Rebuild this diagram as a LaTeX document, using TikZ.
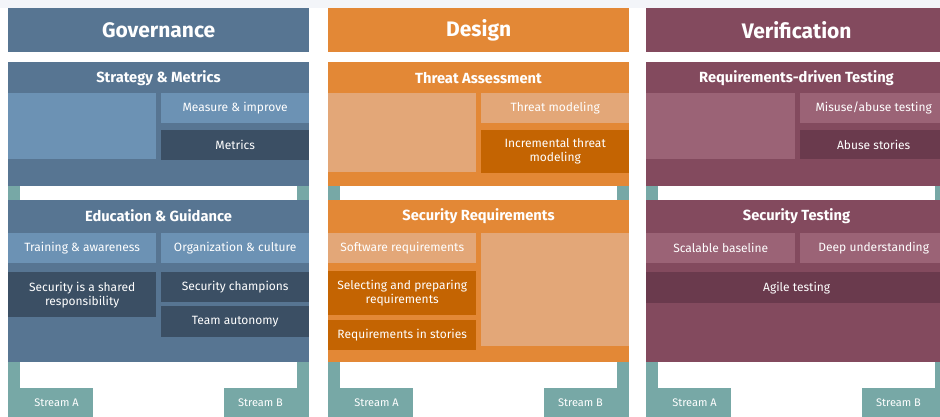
\documentclass[tikz,border=0pt]{standalone}
\usepackage{fontspec}
\setmainfont{Fira Sans}

\definecolor{govmid}{HTML}{577592}
\definecolor{govlight}{HTML}{6C92B4}
\definecolor{govdark}{HTML}{3B4F64}
\definecolor{desmid}{HTML}{E38836}
\definecolor{deslight}{HTML}{E3A778}
\definecolor{desdark}{HTML}{C46402}
\definecolor{vermid}{HTML}{834A5E}
\definecolor{verlight}{HTML}{9B6376}
\definecolor{verdark}{HTML}{6A3A4D}
\definecolor{streamteal}{HTML}{77A8A6}
\definecolor{topband}{HTML}{F3F5F9}

\tikzset{
  box/.style={anchor=north west, inner sep=0pt, text=white, align=center,
    font=\fontsize{12}{14}\selectfont},
  headbox/.style={box, minimum width=301pt, minimum height=44pt,
    font=\fontsize{21}{25}\selectfont\bfseries},
  practitle/.style={text=white, font=\fontsize{14.7}{17}\selectfont\bfseries},
  streamlabel/.style={text=white, font=\fontsize{11}{13}\selectfont}
}

\begin{document}
\begin{tikzpicture}[x=1pt,y=-1pt]
    \useasboundingbox (0,0) rectangle (940,417);
    \clip (0,0) rectangle (940,417);
    \fill[white] (0,0) rectangle (940,417);
    \fill[topband] (0,0) rectangle (940,8);

    % Governance
    \begin{scope}[shift={(8,0)}]
        \fill[streamteal] (0,186) rectangle (12,430);
        \fill[streamteal] (289,186) rectangle (301,430);
        \fill[streamteal] (0,388) rectangle (85,430);
        \fill[streamteal] (216,388) rectangle (301,430);
        \node[streamlabel] (govA) at (48.5,403) {Stream A};
        \node[streamlabel] (govB) at (252.5,403) {Stream B};

        \node[headbox, fill=govmid] (gov) at (0,8) {Governance};

        \fill[govmid] (0,62) rectangle (301,186);
        \node[practitle] (sm) at (150.5,78) {Strategy \& Metrics};
        \fill[govlight] (0,93) rectangle (148,159);
        \node[box, fill=govlight, minimum width=148pt, minimum height=30pt] (mi) at (153,93) {Measure \& improve};
        \node[box, fill=govdark, minimum width=148pt, minimum height=30pt] (met) at (153,130) {Metrics};

        \fill[govmid] (0,200) rectangle (301,362);
        \node[practitle] (eg) at (150.5,216) {Education \& Guidance};
        \node[box, fill=govlight, minimum width=148pt, minimum height=30pt] (ta) at (0,233) {Training \& awareness};
        \node[box, fill=govlight, minimum width=148pt, minimum height=30pt] (oc) at (153,233) {Organization \& culture};
        \node[box, fill=govdark, minimum width=148pt, minimum height=45pt] (ssr) at (0,272) {Security is a shared\\responsibility};
        \node[box, fill=govdark, minimum width=148pt, minimum height=30pt] (sc) at (153,272) {Security champions};
        \node[box, fill=govdark, minimum width=148pt, minimum height=31pt] (tau) at (153,306) {Team autonomy};
    \end{scope}

    % Design
    \begin{scope}[shift={(328,0)}]
        \fill[streamteal] (0,186) rectangle (12,430);
        \fill[streamteal] (289,186) rectangle (301,430);
        \fill[streamteal] (0,388) rectangle (85,430);
        \fill[streamteal] (216,388) rectangle (301,430);
        \node[streamlabel] (desA) at (48.5,403) {Stream A};
        \node[streamlabel] (desB) at (252.5,403) {Stream B};

        \node[headbox, fill=desmid] (des) at (0,8) {Design};

        \fill[desmid] (0,62) rectangle (301,186);
        \node[practitle] (tass) at (150.5,78) {Threat Assessment};
        \fill[deslight] (0,93) rectangle (148,172);
        \node[box, fill=deslight, minimum width=148pt, minimum height=30pt] (tm) at (153,93) {Threat modeling};
        \node[box, fill=desdark, minimum width=148pt, minimum height=43pt] (itm) at (153,130) {Incremental threat\\modeling};

        \fill[desmid] (0,200) rectangle (301,362);
        \node[practitle] (sreq) at (150.5,216) {Security Requirements};
        \node[box, fill=deslight, minimum width=148pt, minimum height=30pt] (swr) at (0,233) {Software requirements};
        \node[box, fill=desdark, minimum width=148pt, minimum height=44pt] (spr) at (0,271) {Selecting and preparing\\requirements};
        \node[box, fill=desdark, minimum width=148pt, minimum height=30pt] (ris) at (0,320) {Requirements in stories};
        \fill[deslight] (153,233) rectangle (301,346);
    \end{scope}

    % Verification
    \begin{scope}[shift={(646,0)}]
        \fill[streamteal] (0,186) rectangle (12,430);
        \fill[streamteal] (289,186) rectangle (301,430);
        \fill[streamteal] (0,388) rectangle (85,430);
        \fill[streamteal] (216,388) rectangle (301,430);
        \node[streamlabel] (verA) at (48.5,403) {Stream A};
        \node[streamlabel] (verB) at (252.5,403) {Stream B};

        \node[headbox, fill=vermid] (ver) at (0,8) {Verification};

        \fill[vermid] (0,62) rectangle (301,186);
        \node[practitle] (rdt) at (150.5,78) {Requirements-driven Testing};
        \fill[verlight] (0,93) rectangle (149,159);
        \node[box, fill=verlight, minimum width=147pt, minimum height=30pt] (mat) at (154,93) {Misuse/abuse testing};
        \node[box, fill=verdark, minimum width=147pt, minimum height=29pt] (abs) at (154,130) {Abuse stories};

        \fill[vermid] (0,200) rectangle (301,362);
        \node[practitle] (st) at (150.5,216) {Security Testing};
        \node[box, fill=verlight, minimum width=149pt, minimum height=30pt] (sb) at (0,233) {Scalable baseline};
        \node[box, fill=verlight, minimum width=147pt, minimum height=30pt] (du) at (154,233) {Deep understanding};
        \node[box, fill=verdark, minimum width=301pt, minimum height=31pt] (agt) at (0,272) {Agile testing};
    \end{scope}
\end{tikzpicture}
\end{document}
